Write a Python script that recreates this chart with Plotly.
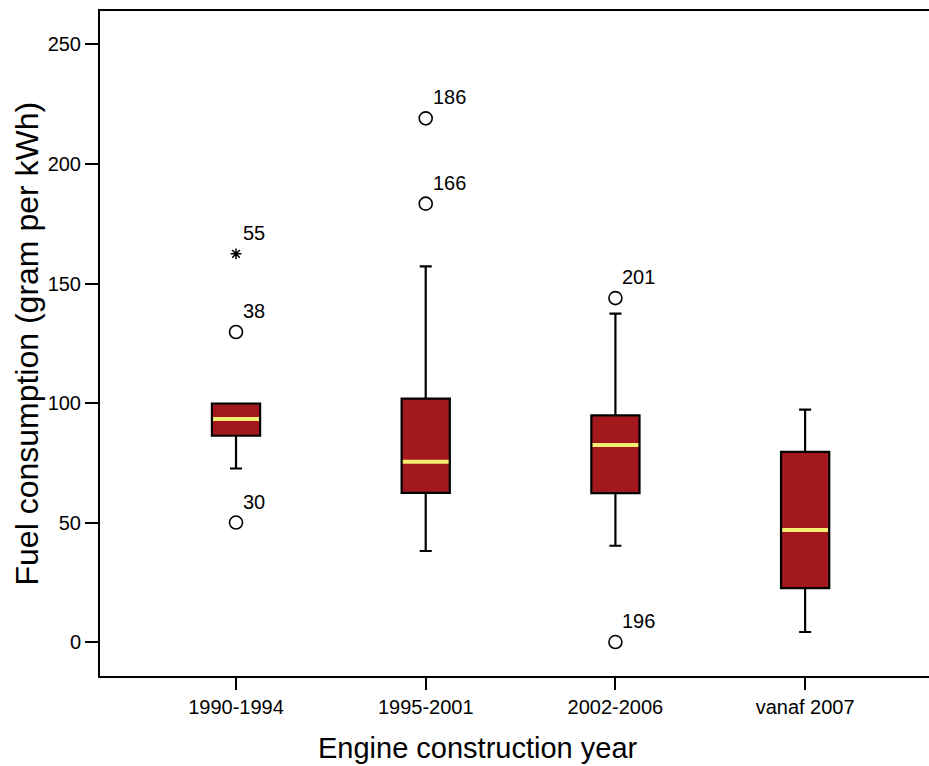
import plotly.graph_objects as go

# Fuel consumption by engine construction year (box summary statistics)
categories = ["1990-1994", "1995-2001", "2002-2006", "vanaf 2007"]
q1 = [86.3, 62.4, 62.3, 22.6]
median = [93.3, 75.4, 82.4, 46.9]
q3 = [99.8, 101.8, 94.8, 79.6]
lower_whisker = [72.6, 38.1, 40.3, 4.2]
upper_whisker = [99.8, 157.2, 137.4, 97.2]

# Outliers: category index, value, case label, extreme flag
outlier_cat = [0, 0, 0, 1, 1, 2, 2]
outlier_val = [162.4, 129.7, 50.0, 219.1, 183.4, 143.9, 0.0]
outlier_id = ["55", "38", "30", "186", "166", "201", "196"]
outlier_extreme = [True, False, False, False, False, False, False]

y_ticks = [0, 50, 100, 150, 200, 250]

FONT = "Liberation Sans, Arial, sans-serif"
BOX_W = 0.254
pos = list(range(len(categories)))

fig = go.Figure()

fig.add_trace(go.Box(
    x=pos, q1=q1, median=median, q3=q3,
    lowerfence=lower_whisker, upperfence=upper_whisker,
    width=BOX_W, whiskerwidth=0.25, boxpoints=False,
    fillcolor="#a2181c", line=dict(color="black", width=2.2),
    hoverinfo="skip", showlegend=False,
))

# Yellow median bars across each box
mx, my = [], []
for p, m in zip(pos, median):
    mx += [p - BOX_W / 2 + 0.006, p + BOX_W / 2 - 0.006, None]
    my += [m, m, None]
fig.add_trace(go.Scatter(
    x=mx, y=my, mode="lines", line=dict(color="#f6ee72", width=4),
    hoverinfo="skip", showlegend=False,
))

# Outlier markers
fig.add_trace(go.Scatter(
    x=[c for c, e in zip(outlier_cat, outlier_extreme) if not e],
    y=[v for v, e in zip(outlier_val, outlier_extreme) if not e],
    mode="markers",
    marker=dict(symbol="circle-open", size=13, color="black", line=dict(width=1.6, color="black")),
    hoverinfo="skip", showlegend=False,
))
fig.add_trace(go.Scatter(
    x=[c for c, e in zip(outlier_cat, outlier_extreme) if e],
    y=[v for v, e in zip(outlier_val, outlier_extreme) if e],
    mode="markers",
    marker=dict(symbol="asterisk-open", size=9, color="black", line=dict(width=1.5, color="black")),
    hoverinfo="skip", showlegend=False,
))

annotations = []
for c, v, t in zip(outlier_cat, outlier_val, outlier_id):
    annotations.append(dict(
        x=c, y=v, xref="x", yref="y", text=t, showarrow=False,
        xanchor="left", yanchor="bottom", xshift=5, yshift=8,
        font=dict(family=FONT, size=20, color="black"),
    ))

annotations.append(dict(
    x=(477.5 - 100) / 829, y=-0.108, xref="paper", yref="paper",
    text="Engine construction year", showarrow=False,
    xanchor="center", yanchor="middle",
    font=dict(family=FONT, size=29, color="black"),
))
annotations.append(dict(
    x=(26 - 100) / 829, y=0.5, xref="paper", yref="paper",
    text="Fuel consumption (gram per kWh)", showarrow=False, textangle=-90,
    xanchor="center", yanchor="middle",
    font=dict(family=FONT, size=32, color="black"),
))

fig.update_layout(
    width=929, height=766,
    margin=dict(l=100, r=0, t=11, b=90),
    paper_bgcolor="white", plot_bgcolor="white",
    font=dict(family=FONT, size=20, color="black"),
    annotations=annotations,
    xaxis=dict(
        range=[-0.717, 3.653], tickmode="array", tickvals=pos, ticktext=categories,
        showline=True, linecolor="black", linewidth=2, mirror=True,
        ticks="outside", ticklen=12, tickwidth=2, tickcolor="black",
        showgrid=False, zeroline=False, tickfont=dict(family=FONT, size=20),
    ),
    yaxis=dict(
        range=[-14.2, 264.0], tickmode="array", tickvals=y_ticks,
        showline=True, linecolor="black", linewidth=2,
        ticks="outside", ticklen=13, tickwidth=2, tickcolor="black",
        showgrid=False, zeroline=False, tickfont=dict(family=FONT, size=20),
    ),
)

fig.write_html("out.html")
